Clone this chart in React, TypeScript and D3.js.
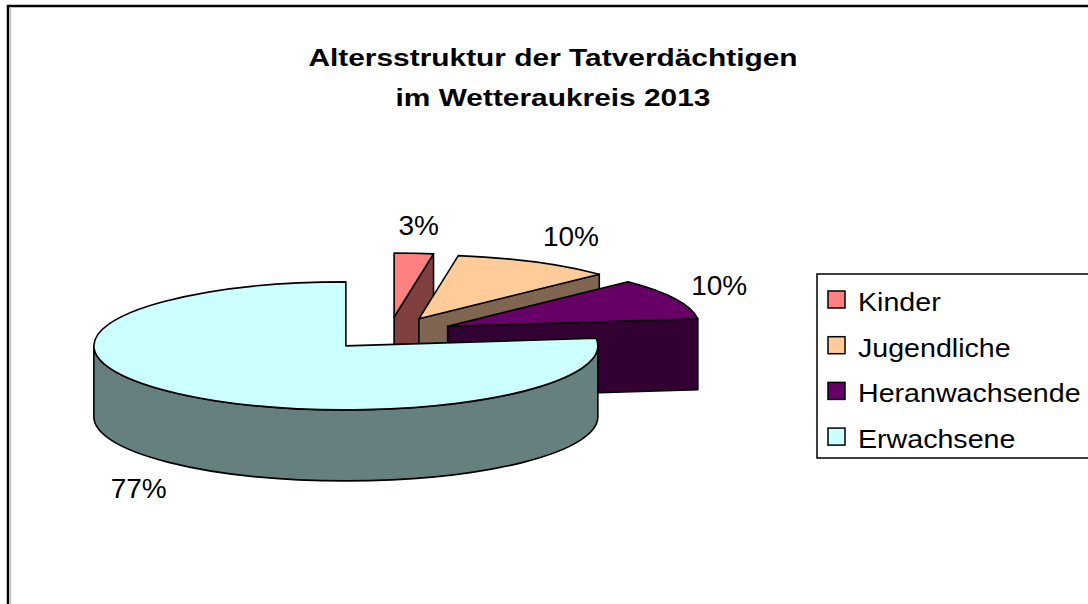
import React from "react";
import * as d3 from "d3";

const WIDTH = 1088;
const HEIGHT = 604;

// data
const categories = ["Kinder", "Jugendliche", "Heranwachsende", "Erwachsene"];
const shares = [2.5, 10.2, 10.4, 76.9];
const titleLines = ["Altersstruktur der Tatverdächtigen", "im Wetteraukreis 2013"];

const topColors = ["#ff8080", "#ffcc99", "#660066", "#ccffff"];
const sideColors = ["#804040", "#806650", "#330033", "#668080"];

// 3d pie layout
const CX = 389;
const CY = 333.5;
const RX = 252;
const RY = 64;
const DEPTH = 71;
const EXPLODE = 65;
const LABEL_GAP = 18;
const LABEL_FONT = 28;
const FONT = "'Liberation Sans', Arial, sans-serif";

interface Slice {
  name: string;
  value: number;
  a0: number;
  a1: number;
}

const charW = (s: string) =>
  s.split("").reduce((acc, c) => acc + (c === "%" ? 0.889 : 0.556), 0) * LABEL_FONT;

export default function App() {
  const pie = d3
    .pie<number>()
    .sort(null)
    .startAngle(0)
    .endAngle(2 * Math.PI)
    .value((d) => d);

  const arcs = pie(shares);
  const slices: Slice[] = arcs.map((a, i) => ({
    name: categories[i],
    value: shares[i],
    a0: a.startAngle,
    a1: a.endAngle,
  }));

  const total = d3.sum(shares);
  const fmt = (v: number) => `${Math.round((v / total) * 100)}%`;

  const color = d3.scaleOrdinal<string, string>().domain(categories).range(topColors);
  const side = d3.scaleOrdinal<string, string>().domain(categories).range(sideColors);

  const origin = (s: Slice) => {
    const m = (s.a0 + s.a1) / 2;
    return [CX + EXPLODE * Math.sin(m), CY - EXPLODE * (RY / RX) * Math.cos(m)];
  };

  const pt = (o: number[], a: number, dy = 0) =>
    `${o[0] + RX * Math.sin(a)},${o[1] - RY * Math.cos(a) + dy}`;

  const topPath = (s: Slice) => {
    const o = origin(s);
    const large = s.a1 - s.a0 > Math.PI ? 1 : 0;
    return `M${o[0]},${o[1]}L${pt(o, s.a0)}A${RX},${RY} 0 ${large} 1 ${pt(o, s.a1)}Z`;
  };

  const radialPath = (s: Slice, a: number) => {
    const o = origin(s);
    return `M${o[0]},${o[1]}L${pt(o, a)}L${pt(o, a, DEPTH)}L${o[0]},${o[1] + DEPTH}Z`;
  };

  const wallPath = (s: Slice) => {
    const b0 = Math.max(s.a0, Math.PI / 2);
    const b1 = Math.min(s.a1, (3 * Math.PI) / 2);
    if (b1 <= b0) return null;
    const o = origin(s);
    return `M${pt(o, b0)}A${RX},${RY} 0 0 1 ${pt(o, b1)}L${pt(o, b1, DEPTH)}A${RX},${RY} 0 0 0 ${pt(o, b0, DEPTH)}Z`;
  };

  const labelPos = (s: Slice) => {
    const o = origin(s);
    const m = (s.a0 + s.a1) / 2;
    const sin = Math.sin(m);
    const cos = Math.cos(m);
    const w = charW(fmt(s.value));
    const h = LABEL_FONT * 0.716;
    const px = o[0] + (RX + LABEL_GAP) * sin;
    const py = o[1] - (RY + LABEL_GAP) * cos + (cos < 0 ? DEPTH : 0);
    const x = px + (w / 2) * Math.max(-1, Math.min(1, sin * 2.2));
    const y = py - (h / 2) * Math.max(-1, Math.min(1, cos * 1.35));
    return [x, y + h / 2];
  };

  const stroke = { stroke: "#000", strokeWidth: 1.6, strokeLinejoin: "round" as const };

  return (
    <svg
      width={WIDTH}
      height={HEIGHT}
      style={{ position: "absolute", left: 0, top: 0, background: "#fff" }}
      fontFamily={FONT}
    >
      <rect x={8} y={6} width={1300} height={800} fill="#fff" stroke="#000" strokeWidth={2.5} />
      <line x1={10.5} y1={8} x2={10.5} y2={HEIGHT} stroke="#c8c8c8" strokeWidth={1.5} />

      <g fontWeight="bold" fontSize={24.5} textAnchor="middle">
        {titleLines.map((t, i) => (
          <text key={t} transform={`translate(553,${66 + i * 40}) scale(1.22,1)`}>
            {t}
          </text>
        ))}
      </g>

      <g {...stroke}>
        {slices.map((s) => {
          const wall = wallPath(s);
          return (
            <g key={s.name}>
              {Math.sin(s.a0) < -1e-6 && <path d={radialPath(s, s.a0)} fill={side(s.name)} />}
              {Math.sin(s.a1) > 1e-6 && <path d={radialPath(s, s.a1)} fill={side(s.name)} />}
              {wall && <path d={wall} fill={side(s.name)} />}
              <path d={topPath(s)} fill={color(s.name)} />
            </g>
          );
        })}
      </g>

      <g fontSize={LABEL_FONT} textAnchor="middle">
        {slices.map((s) => {
          const [x, y] = labelPos(s);
          return (
            <text key={s.name} x={x} y={y}>
              {fmt(s.value)}
            </text>
          );
        })}
      </g>

      <g>
        <rect x={817} y={274} width={400} height={184} fill="#fff" stroke="#000" strokeWidth={1.5} />
        {categories.map((c, i) => {
          const base = 311 + i * 45.7;
          return (
            <g key={c}>
              <rect x={828} y={base - 20} width={17} height={17} fill={color(c)} stroke="#000" strokeWidth={1.5} />
              <text transform={`translate(858,${base}) scale(1.1,1)`} fontSize={26}>
                {c}
              </text>
            </g>
          );
        })}
      </g>
    </svg>
  );
}
